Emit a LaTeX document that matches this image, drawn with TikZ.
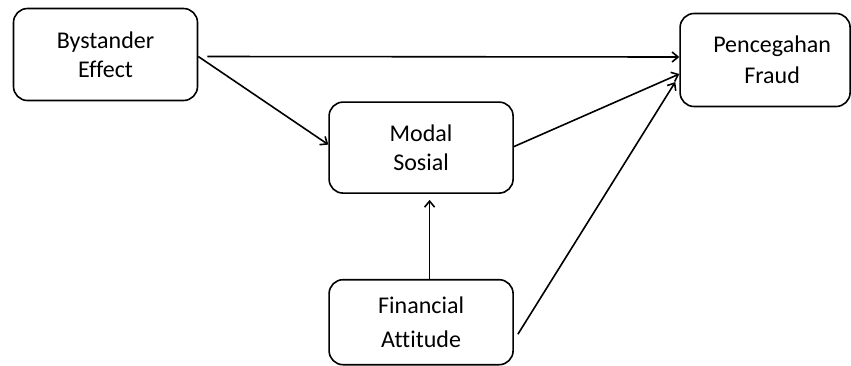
\documentclass[tikz,border=0pt]{standalone}
\usepackage{fontspec}
\setmainfont{Carlito}[Ligatures=NoCommon]
\usepackage{tikz}
\usetikzlibrary{positioning,arrows.meta}

\begin{document}
\begin{tikzpicture}[
    box/.style={draw,rounded corners=14pt,line width=1.6pt,align=center,
      minimum width=184pt,minimum height=91pt,inner sep=0pt,
      font=\fontsize{24}{29}\selectfont},
    arr/.style={-{Straight Barb[length=6pt,width=10pt]},line width=1.6pt}
  ]
    \useasboundingbox (0pt,0pt) rectangle (851pt,-365pt);

    \node[box,minimum height=92pt] (by) at (105.5pt,-54.5pt) {Bystander\\Effect};
    \node[box,below right=0pt and 130pt of by] (ms) {Modal\\Sosial};
    \node[box,below=85pt of ms,minimum height=85pt,font=\fontsize{24}{34}\selectfont] (fa) {Financial\\Attitude};
    \node[box,right=481pt of by,yshift=-5.5pt,minimum width=170pt,minimum height=93pt,
      font=\fontsize{24}{31}\selectfont] (pf) {\hspace*{14pt}Pencegahan\\\hspace*{14pt}Fraud};

    \draw[arr] ([xshift=9pt,yshift=-2pt]by.east) -- ([yshift=3pt]pf.west);
    \draw[arr] ([yshift=-2pt]by.east) -- ([yshift=3pt]ms.west);
    \draw[arr] ([yshift=1pt]ms.east) -- ([yshift=-14pt]pf.west);
    \draw[arr] ([xshift=4pt,yshift=-12pt]fa.east) -- ([xshift=-4pt,yshift=-22pt]pf.west);
    \draw[arr] ([xshift=8.5pt]fa.north) -- ([xshift=8.5pt,yshift=-6pt]ms.south);

  \end{tikzpicture}
\end{document}
